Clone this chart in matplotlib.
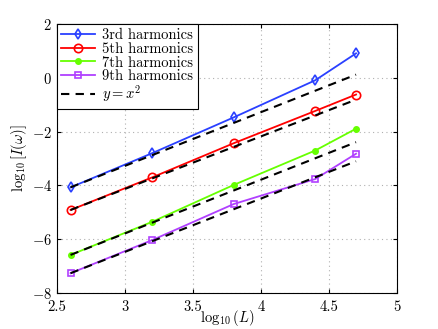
import matplotlib
matplotlib.use('Agg')
import matplotlib.pyplot as plt

# log10(L) sample points
logL = [2.60, 3.20, 3.80, 4.40, 4.70]

# log10[I(w)] for each harmonic
h3 = [-4.07, -2.80, -1.47, -0.09, 0.91]
h5 = [-4.91, -3.70, -2.43, -1.23, -0.62]
h7 = [-6.58, -5.35, -3.98, -2.70, -1.89]
h9 = [-7.26, -6.03, -4.69, -3.76, -2.82]

# y = x^2 reference lines (start/end in log-log)
fit_x = [2.60, 4.70]
fit3 = [-4.07, 0.12]
fit5 = [-4.91, -0.81]
fit7 = [-6.58, -2.39]
fit9 = [-7.26, -3.10]

plt.rcParams['font.family'] = 'serif'
plt.rcParams['font.serif'] = ['cmr10', 'DejaVu Serif']
plt.rcParams['mathtext.fontset'] = 'cm'
plt.rcParams['axes.formatter.use_mathtext'] = True
plt.rcParams['font.size'] = 10.5

fig = plt.figure(figsize=(4.38, 3.29), dpi=100)
ax = fig.add_axes([0.130, 0.109, 0.776, 0.818])

ax.plot(logL, h3, 'd-', color='#2a40ff', lw=1.3, ms=5.5, mfc='none', mew=1.2, label='3rd harmonics')
ax.plot(logL, h5, 'o-', color='#ff0000', lw=1.3, ms=6, mfc='none', mew=1.2, label='5th harmonics')
ax.plot(logL, h7, '.-', color='#66ff00', lw=1.3, ms=8, label='7th harmonics')
ax.plot(logL, h9, 's-', color='#b040ff', lw=1.3, ms=5, mfc='none', mew=1.2, label='9th harmonics')
ax.plot(fit_x, fit3, '--', color='black', lw=1.5, dashes=(4, 3), label='$y = x^2$')
for f in (fit5, fit7, fit9):
    ax.plot(fit_x, f, '--', color='black', lw=1.5, dashes=(4, 3))

ax.set_xlim(2.5, 5)
ax.set_ylim(-8, 2)
ax.set_xticks([2.5, 3, 3.5, 4, 4.5, 5])
ax.set_xticklabels(['2.5', '3', '3.5', '4', '4.5', '5'])
ax.set_yticks([-8, -6, -4, -2, 0, 2])
ax.grid(True, linestyle=(0, (1, 3)), color='#b0b0b0', lw=0.8)
ax.tick_params(direction='in', length=3, top=True, right=True)
ax.tick_params(axis='x', pad=5)
ax.set_xlabel(r'$\log_{10}(L)$')
ax.xaxis.set_label_coords(0.5, -0.055)
ax.set_ylabel(r'$\log_{10}[I(\omega)]$', labelpad=2)

leg = ax.legend(loc='upper left', borderaxespad=0, fancybox=False, framealpha=1,
                edgecolor='black', handlelength=2.3, labelspacing=0.0,
                borderpad=0.3, handletextpad=0.5)
leg.get_frame().set_linewidth(0.8)

fig.savefig('out.png', dpi=100)
